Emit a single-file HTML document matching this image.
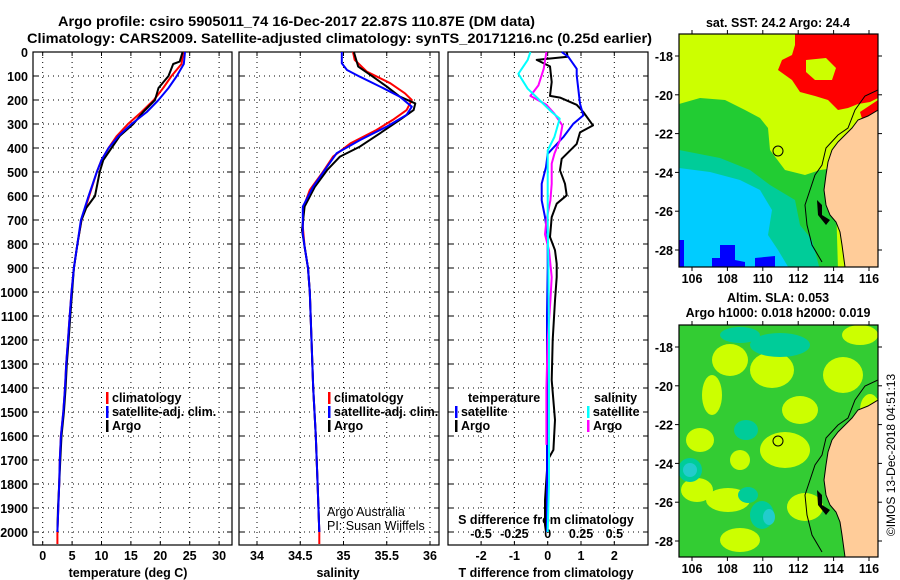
<!DOCTYPE html>
<html><head><meta charset="utf-8"><style>
body{margin:0;background:#fff;}
svg{display:block;font-family:"Liberation Sans",sans-serif;font-weight:bold;}
</style></head><body>
<svg id="c" width="900" height="580" viewBox="0 0 900 580" xmlns="http://www.w3.org/2000/svg">
<text x="58" y="26" font-size="14" textLength="477" lengthAdjust="spacingAndGlyphs">Argo profile: csiro 5905011_74 16-Dec-2017 22.87S 110.87E (DM data)</text>
<text x="27" y="43" font-size="14" textLength="625" lengthAdjust="spacingAndGlyphs">Climatology: CARS2009. Satellite-adjusted climatology: synTS_20171216.nc (0.25d earlier)</text>
<g id="maps"></g>
<g id="plots"></g>
<text transform="translate(895,455) rotate(-90)" text-anchor="middle" font-size="12" font-weight="normal">©IMOS 13-Dec-2018 04:51:13</text>
</svg>
<script>
// ---- data ----
const depthLevels=[0,100,200,300,400,500,600,700,800,900,1000,1100,1200,1300,1400,1500,1600,1700,1800,1900,2000];
const tempTicks=[0,5,10,15,20,25,30];
const salTicks=[34,34.5,35,35.5,36];
const tdiffTicks=[-2,-1,0,1,2];
const sdiffTicks=[-0.5,-0.25,0,0.25,0.5];
const sdiffLabels=["-0.5","-0.25","0","0.25","0.5"];

const tClimDepth=[0,50,100,150,200,250,300,350,400,450,500,600,700,800,900,1000,1100,1200,1300,1400,1500,1600,1700,1800,1900,2000,2050];
const tClim=[23.9,23.6,21.9,20.5,18.9,16.8,14.5,12.6,11.2,10.0,9.2,7.9,6.6,5.9,5.3,4.9,4.6,4.3,4.0,3.8,3.5,3.1,2.9,2.8,2.65,2.5,2.5];
const tSatDepth=[0,50,100,150,200,250,300,350,400,450,500,600,700,800,900,1000,1100,1200,1300,1400,1500,1600,1700,1800,1900,2000];
const tSat=[24.2,24.0,22.8,21.4,19.7,17.7,15.1,12.9,11.2,10.0,9.2,7.8,6.5,5.9,5.3,4.9,4.6,4.3,4.0,3.8,3.5,3.1,2.9,2.8,2.65,2.5];
const tArgoDepth=[0,40,50,100,150,200,250,300,350,400,450,500,600,650,700,800,900,1000,1100,1200,1300,1400,1500,1600,1700,1800,1900,2000];
const tArgo=[23.8,23.3,22.2,21.4,19.7,19.1,17.1,15.4,13.1,11.7,10.3,9.7,8.9,7.4,6.6,5.9,5.3,5.0,4.7,4.4,4.1,3.9,3.6,3.2,3.0,2.8,2.6,2.5];

const sClimDepth=[0,33,82,130,172,200,242,283,325,381,436,506,575,644,728,811,900,1000,1200,1400,1600,1800,2000,2050];
const sClim=[35.11,35.13,35.27,35.54,35.71,35.79,35.73,35.57,35.38,35.08,34.88,34.75,34.61,34.54,34.53,34.55,34.59,34.61,34.63,34.65,34.68,34.70,34.72,34.72];
const sSatDepth=[0,47,75,103,151,186,228,262,311,367,422,478,561,644,756,811,900,1000,1200,1400,1600,1800,2000];
const sSat=[34.98,34.98,35.04,35.19,35.46,35.65,35.79,35.73,35.50,35.19,34.92,34.81,34.65,34.53,34.53,34.55,34.59,34.61,34.63,34.65,34.68,34.70,34.72];
const sArgoDepth=[0,61,103,144,186,214,242,283,339,394,436,492,561,644,742,811,900,1000,1200,1400,1600,1800,2000];
const sArgo=[35.12,35.17,35.34,35.50,35.65,35.83,35.81,35.65,35.42,35.19,34.96,34.81,34.67,34.55,34.52,34.55,34.59,34.61,34.63,34.65,34.68,34.70,34.72];

const dTArgoDepth=[0,20,33,60,125,183,190,220,250,306,335,383,445,493,549,597,632,688,771,826,882,938,1035,1200,1367,1533,1658,1700,1867,1970,2000];
const dTArgo=[0.57,0.6,-0.33,0.07,0.12,0.07,0.37,0.87,1.07,1.36,0.97,0.87,0.42,0.37,0.52,0.57,0.27,0.12,0.07,0.22,0.27,0.27,0.22,0.15,0.12,0.22,0.17,0.0,-0.08,-0.08,-0.05];
const dTSatDepth=[0,20,70,97,215,264,299,354,424,479,549,618,688,771,900,1100,1400,1700,2000];
const dTSat=[0.42,0.62,0.87,0.87,0.97,1.07,0.77,0.47,0.0,-0.05,-0.18,-0.18,-0.08,0.0,0.0,-0.02,-0.02,-0.02,-0.02];
const dSArgoDepth=[0,70,139,183,220,257,306,369,424,465,549,618,702,760,826,938,1035,1200,1400,1637];
const dSArgo=[-0.01,-0.03,-0.07,-0.13,-0.01,0.05,0.11,0.09,0.05,0.03,0.03,0.02,-0.01,-0.02,0.01,0.03,0.02,0.0,-0.01,-0.01];
const dSSatDepth=[0,33,91,153,190,250,278,354,410,521,700,900,1200,1500,1800,2000];
const dSSat=[-0.13,-0.15,-0.22,-0.15,-0.08,0.03,0.09,0.05,0.0,0.0,0.0,0.005,0.01,0.01,0.01,0.0];

// ---- layout ----
const NS="http://www.w3.org/2000/svg";
const topY=52,botY=545;
const yD=d=>52+d*0.24;
const panels=[{x0:33,x1:232},{x0:239,x1:439},{x0:448,x1:648}];
const xT=v=>42.7+v*5.88;
const xS=v=>257+(v-34)*86.5;
const xDT=v=>547.7+v*33.3;
const xDS=v=>547.7+v*133.3;
const plots=document.getElementById('plots');
function el(tag,attrs,parent){const e=document.createElementNS(NS,tag);for(const k in attrs)e.setAttribute(k,attrs[k]);(parent||plots).appendChild(e);return e;}
function txt(s,x,y,size,anchor,parent){const t=el('text',{x:x,y:y,'font-size':size,'text-anchor':anchor||'start'},parent);t.textContent=s;return t;}

function panel(i,p,xf,ticks,labels,labelY){
  const g=el('g',{});
  
  
  ticks.forEach(v=>{const x=xf(v);
    el('line',{x1:x,y1:topY,x2:x,y2:botY,stroke:'#000','stroke-width':1,'stroke-dasharray':'1,4'},g);
    el('line',{x1:x,y1:topY,x2:x,y2:topY+4,stroke:'#000'},g);
    el('line',{x1:x,y1:botY,x2:x,y2:botY-4,stroke:'#000'},g);
  });
  depthLevels.forEach(d=>{const y=yD(d);
    if(d>0)el('line',{x1:p.x0,y1:y,x2:p.x1,y2:y,stroke:'#000','stroke-dasharray':'1,4'},g);
    el('line',{x1:p.x0,y1:y,x2:p.x0+5,y2:y,stroke:'#000'},g);
    el('line',{x1:p.x1,y1:y,x2:p.x1-5,y2:y,stroke:'#000'},g);
  });
  el('rect',{x:p.x0,y:topY,width:p.x1-p.x0,height:botY-topY,fill:'none',stroke:'#000','stroke-width':1.2},g);
  if(labels){ticks.forEach((v,j)=>{const t=txt(labels[j],xf(v),labelY,12.5,'middle',g);});}
  return g;
}
function line(xs,ds,xf,color,name,w){
  const pts=xs.map((v,i)=>xf(v).toFixed(1)+','+yD(ds[i]).toFixed(1)).join(' ');
  const l=el('polyline',{points:pts,fill:'none',stroke:color,'stroke-width':w||2,'stroke-linejoin':'round'});
  
  
}
// panel 1
panel(1,panels[0],xT,tempTicks,tempTicks.map(String),560);
depthLevels.forEach(d=>{const t=txt(String(d),28,yD(d)+5,12.5,'end');
  
  });
const xt1=txt('temperature (deg C)',128,577,12.5,'middle');


line(tClim,tClimDepth,xT,'#ff0000','temp-climatology-line');
line(tArgo,tArgoDepth,xT,'#000','temp-argo-line');
line(tSat,tSatDepth,xT,'#0000ff','temp-satellite-line');
// panel 2
panel(2,panels[1],xS,salTicks,salTicks.map(String),560);
const xt2=txt('salinity',338,577,12.5,'middle');


line(sClim,sClimDepth,xS,'#ff0000','sal-climatology-line');
line(sArgo,sArgoDepth,xS,'#000','sal-argo-line');
line(sSat,sSatDepth,xS,'#0000ff','sal-satellite-line');
// panel 3
panel(3,panels[2],xDT,tdiffTicks,tdiffTicks.map(String),560);
const xt3=txt('T difference from climatology',546,577,12.5,'middle');


const st=txt('S difference from climatology',546,524,12.5,'middle');


sdiffTicks.forEach((v,j)=>{const t=txt(sdiffLabels[j],xDS(v),538,12.5,'middle');
  
  });
line(dTArgo,dTArgoDepth,xDT,'#000','tdiff-argo-line');
line(dTSat,dTSatDepth,xDT,'#0000ff','tdiff-satellite-line');
line(dSArgo,dSArgoDepth,xDS,'#ff00ff','sdiff-argo-line');
line(dSSat,dSSatDepth,xDS,'#00ffff','sdiff-satellite-line');

// legends
function legend(x,y,items,name){
  const g=el('g',{});
  
  
  items.forEach((it,i)=>{
    if(it[1])el('rect',{x:x,y:y+i*14-10,width:2.5,height:12,fill:it[1]},g);
    txt(it[0],x+6,y+i*14,12.5,'start',g);
  });
}
legend(106,402,[['climatology','#ff0000'],['satellite-adj. clim.','#0000ff'],['Argo','#000']],'temp-legend');
legend(328,402,[['climatology','#ff0000'],['satellite-adj. clim.','#0000ff'],['Argo','#000']],'sal-legend');
const lh1=txt('temperature',468,402,12.5,'start');


legend(455,416,[['satellite','#0000ff'],['Argo','#000']],'tdiff-legend');
const lh2=txt('salinity',594,402,12.5,'start');


legend(587,416,[['satellite','#00ffff'],['Argo','#ff00ff']],'sdiff-legend');
const pi1=txt('Argo Australia',327,516,12.5,'start');pi1.setAttribute('font-weight','normal');


const pi2=txt('PI: Susan Wijffels',327,530,12.5,'start');pi2.setAttribute('font-weight','normal');



// ---- maps ----
const maps=document.getElementById('maps');
function mel(tag,attrs,parent){return el(tag,attrs,parent||maps);}
const landPts='878,110 868,116 858,120 852,128 845,135 838,142 832,150 828,162 826,175 824,190 826,205 830,215 836,222 840,232 842,245 845,267 878,267';
function drawMap(oy,kind,y0,h,name){
  const g=mel('g',{});
  
  
  const cid='clip'+kind;
  const cp=mel('clipPath',{id:cid},g);mel('rect',{x:679,y:y0,width:199,height:h},cp);
  const inner=mel('g',{'clip-path':'url(#'+cid+')'},g);
  const tr=mel('g',{transform:'translate(0,'+oy+')'},inner);
  if(kind==='sst'){
    mel('rect',{x:679,y:30,width:199,height:240,fill:'#ccff00'},tr);
    mel('polygon',{points:'795,30 878,30 878,98 870,102 858,104 848,108 838,110 828,100 815,96 800,92 792,80 778,70 782,60 792,55 795,45',fill:'#ff0000'},tr);
    mel('polygon',{points:'806,60 826,58 836,68 832,80 815,80 806,72',fill:'#ccff00'},tr);
    mel('polygon',{points:'860,112 878,100 878,118 864,125',fill:'#ff0000'},tr);
    mel('polygon',{points:'679,104 700,98 725,100 745,110 760,118 768,128 770,150 785,170 805,175 820,170 835,168 838,270 679,270',fill:'#22cc33'},tr);
    mel('polygon',{points:'679,150 720,158 750,170 770,185 795,200 800,225 812,240 820,270 679,270',fill:'#00cc99'},tr);
    mel('polygon',{points:'679,168 710,172 740,180 760,190 772,210 768,235 778,250 790,270 679,270',fill:'#00ccff'},tr);
    mel('polygon',{points:'720,245 735,245 735,260 745,262 745,270 712,270 712,258 720,258',fill:'#0000ff'},tr);
    mel('polygon',{points:'679,240 684,240 684,270 679,270',fill:'#0000ff'},tr);
    mel('polygon',{points:'755,258 775,256 775,270 755,270',fill:'#0000ff'},tr);
  } else {
    mel('rect',{x:679,y:30,width:199,height:240,fill:'#33cc33'},tr);
    [[730,70,18,16],[772,80,22,18],[843,85,20,18],[712,105,10,20],[800,120,18,14],[700,150,14,12],[785,160,25,18],[740,170,10,10],[697,200,16,12],[728,210,22,12],[805,217,18,14],[870,120,10,16],[860,45,18,10],[740,250,20,12]].forEach(b=>
      mel('ellipse',{cx:b[0],cy:b[1],rx:b[2],ry:b[3],fill:'#ccff00'},tr));
    [[746,140,12,10],[690,180,12,12],[748,205,10,8],[762,225,12,14],[780,55,30,12],[740,45,20,8]].forEach(b=>
      mel('ellipse',{cx:b[0],cy:b[1],rx:b[2],ry:b[3],fill:'#00cc99'},tr));
    mel('ellipse',{cx:690,cy:180,rx:7,ry:7,fill:'#22cccc'},tr);
    mel('ellipse',{cx:769,cy:227,rx:6,ry:8,fill:'#22cccc'},tr);
  }
  mel('polygon',{points:landPts,fill:'#ffcc99'},tr);
  mel('polyline',{points:'878,90 865,96 855,110 848,128 838,135 826,148 822,165 815,175 810,190 805,205 807,225 812,245 822,262',fill:'none',stroke:'#000','stroke-width':1},tr);
  mel('polyline',{points:landPts.split(' ').slice(0,-1).join(' '),fill:'none',stroke:'#000','stroke-width':1},tr);
  mel('polygon',{points:'817,200 822,205 822,215 830,220 826,225 818,215',fill:'#000'},tr);
  const mk=mel('circle',{cx:778,cy:151,r:5,fill:'none',stroke:'#000','stroke-width':1},tr);
  
  
  mel('rect',{x:679,y:y0,width:199,height:h,fill:'none',stroke:'#000','stroke-width':1.2},g);
  const lons=[106,108,110,112,114,116];
  lons.forEach(l=>{const x=692+(l-106)*17.7;
    mel('line',{x1:x,y1:y0,x2:x,y2:y0-4,stroke:'#000'},g);
    mel('line',{x1:x,y1:y0+h,x2:x,y2:y0+h+4,stroke:'#000'},g);
    const t=txt(String(l),x,y0+h+16,12.5,'middle',g);
    
    });
  const lats=[-18,-20,-22,-24,-26,-28];
  lats.forEach(l=>{const y=y0+22+(-18-l)*19.4;
    mel('line',{x1:679,y1:y,x2:675,y2:y,stroke:'#000'},g);
    mel('line',{x1:878,y1:y,x2:882,y2:y,stroke:'#000'},g);
    const t=txt(String(l),673,y+5,12.5,'end',g);
    
    });
}
const t1=txt('sat. SST: 24.2 Argo: 24.4',778,27,12.5,'middle',maps);


drawMap(0,'sst',34,233,'sst-map');
const t2=txt('Altim. SLA: 0.053',778,302,12.5,'middle',maps);


const t3=txt('Argo h1000: 0.018 h2000: 0.019',778,317,12.5,'middle',maps);


drawMap(290,'sla',325,232,'sla-map');
</script>
</body></html>
